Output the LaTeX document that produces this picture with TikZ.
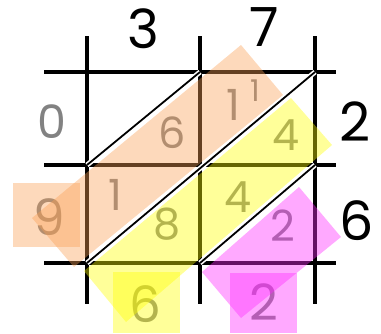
\documentclass[tikz,border=0pt]{standalone}
\usepackage{fontspec}
\setmainfont{Poppins}
\usepackage{tikz}
\definecolor{digitgrey}{RGB}{130, 130, 130}
\definecolor{peachband}{RGB}{250, 160, 85}
\definecolor{lemonband}{RGB}{255, 255, 0}
\definecolor{pinkband}{RGB}{255, 40, 255}

\begin{document}
\begin{tikzpicture}[
    x=1pt, y=-1pt,
    gridline/.style={line width=4pt, color=black},
    diagline/.style={line width=1.8pt, color=black, preaction={draw=white, line width=5pt}},
    factor/.style={inner sep=0pt, text=black, font=\fontsize{54}{54}\selectfont},
    part/.style={inner sep=0pt, text=digitgrey, font=\fontsize{43}{43}\selectfont},
    carry/.style={inner sep=0pt, text=digitgrey, font=\fontsize{30}{30}\selectfont},
    result/.style={inner sep=0pt, text=digitgrey, font=\fontsize{50}{50}\selectfont},
    band/.style={fill=#1, fill opacity=0.4, draw=none}
]
    \useasboundingbox (0,0) rectangle (381,333);

    % lattice
    \foreach \x in {87,200,315}
        \draw[gridline] (\x,36) -- (\x,304);
    \foreach \y in {72,165,263}
        \draw[gridline] (44,\y) -- (336,\y);

    % factors
    \node[factor] (top3) at (143.5,28.5) {3};
    \node[factor] (top7) at (264,27.5) {7};
    \node[factor] (row2) at (355,122) {2};
    \node[factor] (row6) at (357,221) {6};

    % partial products
    \node[part] (p06b) at (172,132.5) {6};
    \node[part] (p14a) at (233,105) {1};
    \node[carry] (c1) at (255,91) {1};
    \node[part] (p14b) at (286,135) {4};
    \node[part] (p18a) at (115,195) {1};
    \node[part] (p18b) at (167,224) {8};
    \node[part] (p42a) at (238,197) {4};
    \node[part] (p42b) at (283,226) {2};

    % answer digits
    \node[result, font=\fontsize{46}{46}\selectfont] (d0) at (52,121.5) {0};
    \node[result] (d9) at (49.5,217) {9};
    \node[result] (d6) at (145.5,304) {6};
    \node[result] (d2) at (263.5,302) {2};

    % diagonal sums
    \fill[band=peachband] (241,45) -- (283,95) -- (74,267) -- (32,218) -- cycle;
    \fill[band=peachband] (13,183) rectangle (80,247);
    \fill[band=lemonband] (291,98) -- (332,145) -- (126,322) -- (84,271) -- cycle;
    \fill[band=lemonband] (113,272) rectangle (180,333);
    \fill[band=pinkband] (299,187) -- (341,237) -- (241,318) -- (202,272) -- cycle;
    \fill[band=pinkband] (230,273) rectangle (297,333);

    \draw[diagline] (87,165) -- (200,72);
    \draw[diagline] (87,263) -- (315,72);
    \draw[diagline] (200,263) -- (315,165);
\end{tikzpicture}
\end{document}
